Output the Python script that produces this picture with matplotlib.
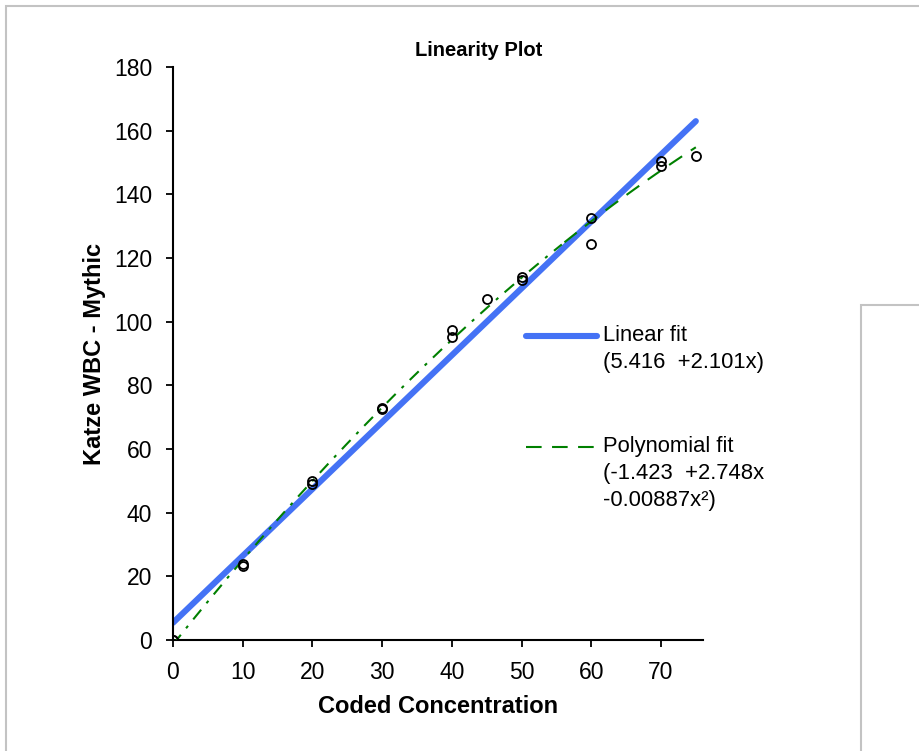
import matplotlib
matplotlib.use("Agg")
import matplotlib.pyplot as plt
import matplotlib.patches as patches
import numpy as np

plt.rcParams['font.family'] = ['Liberation Sans', 'DejaVu Sans']

# measured points (coded concentration vs Katze WBC)
conc = [0, 0, 10, 10, 20, 20, 30, 30, 40, 40, 45, 50, 50, 60, 60, 70, 70, 75]
wbc = [0, 0, 23.2, 24.0, 49.0, 49.9, 72.5, 72.9, 95.3, 97.4, 107.1,
       113.1, 114.1, 132.7, 124.3, 149.0, 150.6, 151.9]

# fit coefficients as printed in the legend (constant first)
lin_coef = [5.416, 2.101]
poly_coef = [-1.423, 2.748, -0.00887]

xticks = [0, 10, 20, 30, 40, 50, 60, 70]
yticks = [0, 20, 40, 60, 80, 100, 120, 140, 160, 180]

W, H = 920, 751
fig = plt.figure(figsize=(W / 100, H / 100), dpi=100)

# frame of the sheet and the neighbouring box
fig.patches.append(patches.Rectangle((6.5 / W, -0.05), 1.2, 1.05 - 6.5 / H,
                                     transform=fig.transFigure, fill=False,
                                     edgecolor='#c3c3c3', lw=1.5, clip_on=False))
fig.patches.append(patches.Rectangle((861 / W, -0.05), 0.5, 1.05 - 305 / H,
                                     transform=fig.transFigure, fill=False,
                                     edgecolor='#c3c3c3', lw=1.5, clip_on=False))

ax = fig.add_axes([173 / W, (H - 640) / H, 529.8 / W, 573 / H])

xfit = np.linspace(0, 75, 200)
lin_y = np.polyval(lin_coef[::-1], xfit)
poly_y = np.polyval(poly_coef[::-1], xfit)

ax.plot(xfit, lin_y, color='#4472f5', lw=4.4, zorder=2,
        label=' \nLinear fit\n(5.416  +2.101x)', solid_capstyle='round')
lo = xfit <= 56
ax.plot(xfit[lo], poly_y[lo], color='#008000', lw=1.5,
        linestyle=(0, (6, 4, 1.5, 4)), zorder=3)
ax.plot(xfit[xfit >= 56], poly_y[xfit >= 56], color='#008000', lw=1.5,
        linestyle=(0, (7.5, 5)), zorder=3,
        label=' \n \nPolynomial fit\n(-1.423  +2.748x\n-0.00887x\u00b2)')
ax.plot(conc, wbc, linestyle='none', marker='o', markersize=6.5,
        markerfacecolor='none', markeredgecolor='black', markeredgewidth=1.3,
        zorder=4)

ax.set_xlim(0, 76)
ax.set_ylim(0, 180)
ax.set_xticks(xticks)
ax.set_yticks(yticks)
ax.tick_params(direction='out', length=5, width=1.3, labelsize=16.5, pad=10)
for s in ['top', 'right']:
    ax.spines[s].set_visible(False)
for s in ['left', 'bottom']:
    ax.spines[s].set_linewidth(1.5)

ax.set_xlabel('Coded Concentration', fontsize=17, fontweight='bold', labelpad=8)
ax.set_ylabel('Katze WBC - Mythic', fontsize=17, fontweight='bold', labelpad=5.5)
ax.set_title('Linearity Plot', fontsize=14.5, fontweight='bold', x=0.577, pad=8)

leg = ax.legend(loc='upper left', bbox_to_anchor=(0.667, 0.597), frameon=False,
                fontsize=15.8, handlelength=3.2, handletextpad=0.27,
                labelspacing=0.43, borderpad=0, borderaxespad=0)
for t in leg.get_texts():
    t.set_linespacing(1.37)

fig.savefig('out.png', dpi=100)
